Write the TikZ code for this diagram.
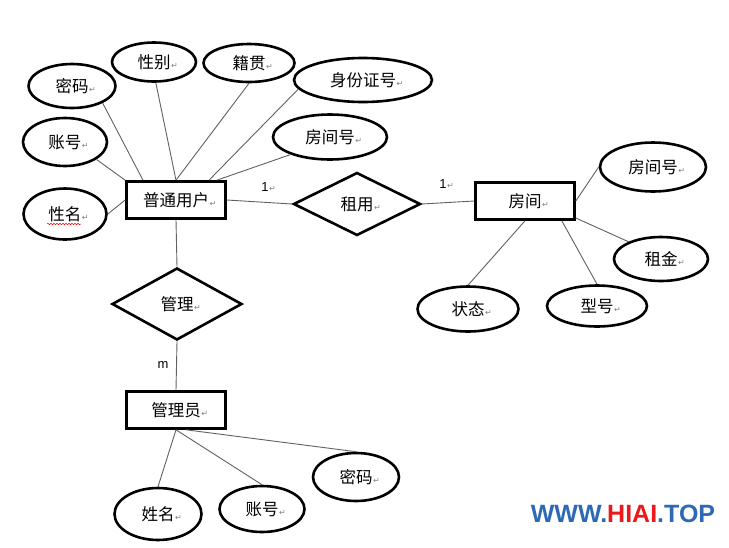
\documentclass[tikz,border=0pt]{standalone}
\usepackage{fontspec}
\setmainfont{Liberation Sans}
\newfontfamily\cjk{Noto Sans CJK SC}
\newfontfamily\dvs{DejaVu Sans}
\usetikzlibrary{shapes.geometric,decorations.pathmorphing}
\newcommand\retm{\rlap{\hspace{0.5pt}\dvs\fontsize{8}{8}\selectfont\color{black!50}↵}}
\newcommand\lbl[1]{{\cjk #1}\retm}
\definecolor{wmblue}{RGB}{45,105,180}
\definecolor{wmred}{RGB}{235,25,25}
\tikzset{
  attr/.style={ellipse, draw, line width=2.6pt, inner sep=0pt, font=\fontsize{16.5}{16.5}\selectfont},
  ent/.style={rectangle, draw, line width=2.6pt, inner sep=0pt, minimum width=99pt, minimum height=37pt, font=\fontsize{16.5}{16.5}\selectfont},
  rel/.style={diamond, draw, line width=2.6pt, inner sep=0pt, font=\fontsize{16.5}{16.5}\selectfont},
  conn/.style={draw=black!62, line width=0.9pt},
  card/.style={inner sep=0pt, font=\fontsize{13}{13}\selectfont}
}
\begin{document}
\begin{tikzpicture}[x=1pt,y=-1pt]
\fill[white] (0,0) rectangle (729,547);
\useasboundingbox (0,0) rectangle (729,547);
% entities
\node[ent] (u) at (176,200) {\lbl{普通用户}};
\node[ent] (r) at (525,201) {\lbl{房间}};
\node[ent] (g) at (176,410) {\lbl{管理员}};
% relations
\node[rel, minimum width=127pt, minimum height=63pt] (rent) at (357,204) {\lbl{租用}};
\node[rel, minimum width=130pt, minimum height=72pt] (mg) at (177,304) {\lbl{管理}};
% attributes of 普通用户
\node[attr, minimum width=87pt, minimum height=44pt] (mm1) at (72,86) {\lbl{密码}};
\node[attr, minimum width=84pt, minimum height=48pt] (zh1) at (65,142) {\lbl{账号}};
\node[attr, minimum width=83pt, minimum height=51pt] (xm1) at (65,214) {\lbl{性名}};
\node[attr, minimum width=84pt, minimum height=39pt] (xb) at (154,62) {\lbl{性别}};
\node[attr, minimum width=91pt, minimum height=38pt] (jg) at (249,63) {\lbl{籍贯}};
\node[attr, minimum width=138pt, minimum height=44pt] (sfz) at (363,80) {\lbl{身份证号}};
\node[attr, minimum width=114pt, minimum height=45pt] (fjh1) at (330,137) {\lbl{房间号}};
% attributes of 房间
\node[attr, minimum width=106pt, minimum height=49pt] (fjh2) at (653,167) {\lbl{房间号}};
\node[attr, minimum width=94pt, minimum height=44pt] (zj) at (661,259) {\lbl{租金}};
\node[attr, minimum width=100pt, minimum height=41pt] (xh) at (597,306) {\lbl{型号}};
\node[attr, minimum width=101pt, minimum height=45pt] (zt) at (468,309) {\lbl{状态}};
% attributes of 管理员
\node[attr, minimum width=87pt, minimum height=52pt] (xm2) at (158,514) {\lbl{姓名}};
\node[attr, minimum width=85pt, minimum height=46pt] (zh2) at (262,509) {\lbl{账号}};
\node[attr, minimum width=86pt, minimum height=48pt] (mm2) at (356,477) {\lbl{密码}};
% spell-check underline
\draw[red, line width=0.5pt, decorate, decoration={snake, amplitude=0.8pt, segment length=3pt}] (47,224) -- (81,224);
% connectors
\draw[conn] (mm1.-29) -- ([xshift=-33pt]u.north);
\draw[conn] (zh1.-29) -- (u.north west);
\draw[conn] (xm1.east) -- (u.west);
\draw[conn] (xb.-85) -- (u.north);
\draw[conn] (jg.south) -- (u.north);
\draw[conn] (sfz.188) -- ([xshift=33pt]u.north);
\draw[conn] (fjh1.204) -- ([xshift=-10pt]u.north east);
\draw[conn] (u.east) -- (rent.west);
\draw[conn] (rent.east) -- (r.west);
\draw[conn] (r.east) -- (fjh2.west);
\draw[conn] ([yshift=-17pt]r.east) -- (zj.152);
\draw[conn] ([xshift=-14pt]r.south east) -- (xh.north);
\draw[conn] (r.south) -- (zt.north);
\draw[conn] (u.south) -- (mg.north);
\draw[conn] (mg.south) -- (g.north);
\draw[conn] (g.south) -- (xm2.north);
\draw[conn] (g.south) -- (zh2.north);
\draw[conn] ([xshift=10pt]g.south) -- (mm2.north);
% cardinalities
\node[card] (c1) at (265,187) {1\retm};
\node[card] (c2) at (443,184) {1\retm};
\node[card] (c3) at (163,365) {m};
% watermark
\node[inner sep=0pt, font=\bfseries\fontsize{25}{25}\selectfont] (wm) at (623,514)
  {\textcolor{wmblue}{WWW.}\textcolor{wmred}{HIAI}\textcolor{wmblue}{.TOP}};
\end{tikzpicture}
\end{document}
